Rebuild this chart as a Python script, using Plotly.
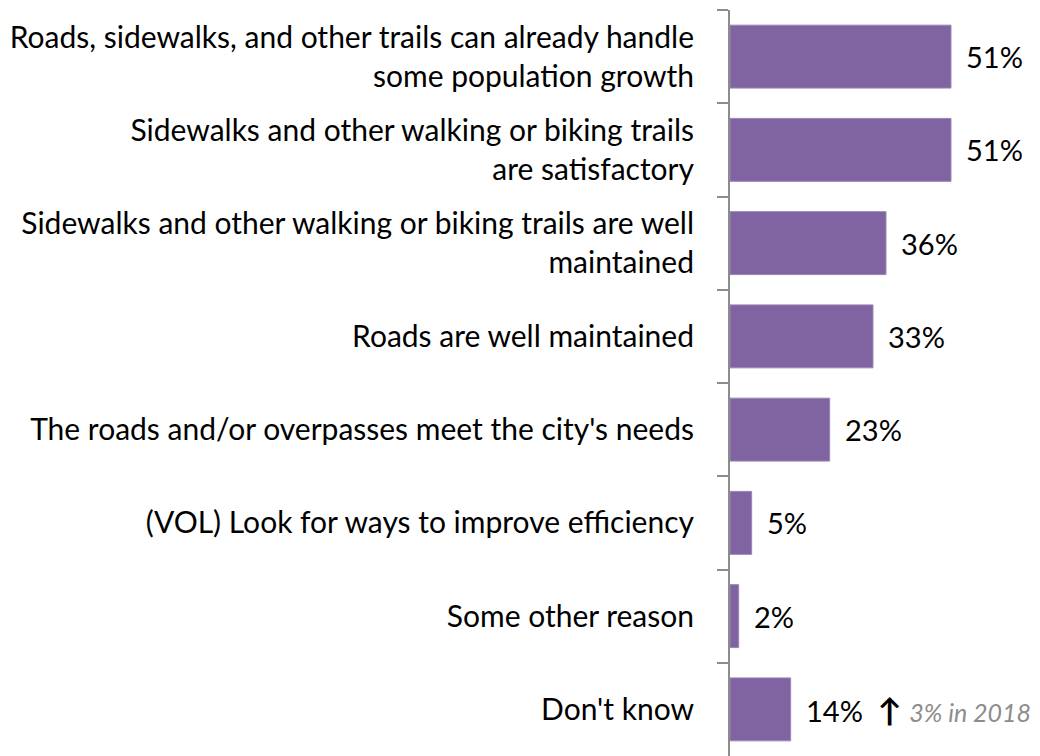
import plotly.graph_objects as go

categories = [
    "Roads, sidewalks, and other trails can already handle<br>some population growth",
    "Sidewalks and other walking or biking trails<br>are satisfactory",
    "Sidewalks and other walking or biking trails are well<br>maintained",
    "Roads are well maintained",
    "The roads and/or overpasses meet the city's needs",
    "(VOL) Look for ways to improve efficiency",
    "Some other reason",
    "Don't know",
]
values = [51, 51, 36, 33, 23, 5, 2, 14]
value_labels = ["51%", "51%", "36%", "33%", "23%", "5%", "2%", "14%"]
note_text = "3% in 2018"

FONT = "Lato"
fig = go.Figure()
fig.add_trace(go.Bar(
    y=categories, x=values, orientation="h",
    marker=dict(color="#8064A2", line=dict(color="#9A86B5", width=1)),
    width=0.675, hoverinfo="skip",
))

for cat, v, lab in zip(categories, values, value_labels):
    txt = lab
    if lab == "14%":
        txt = (lab + "  <span style='font-size:32px'><b>\u2191</b></span> "
               "<i><span style='color:#8C8C8C;font-size:25px'>"
               + note_text + "</span></i>")
    fig.add_annotation(x=v, y=cat, text=txt, showarrow=False, xanchor="left",
                       xshift=13, font=dict(family=FONT, size=29, color="black"))

fig.update_layout(
    width=1040, height=756,
    margin=dict(l=722, r=10, t=2, b=8),
    paper_bgcolor="white", plot_bgcolor="white",
    showlegend=False,
    font=dict(family=FONT, size=30, color="black"),
    xaxis=dict(range=[0, 71.08], visible=False, fixedrange=True),
    yaxis=dict(
        categoryorder="array", categoryarray=categories,
        autorange="reversed", showline=True, linecolor="#8C8C8C", linewidth=2,
        ticks="outside", tickson="boundaries", ticklen=11, tickcolor="#8C8C8C",
        tickwidth=2, ticklabelstandoff=28, automargin=False,
        tickfont=dict(family=FONT, size=30, color="black"),
        showgrid=False, zeroline=False,
    ),
)
fig.write_html("out.html")
